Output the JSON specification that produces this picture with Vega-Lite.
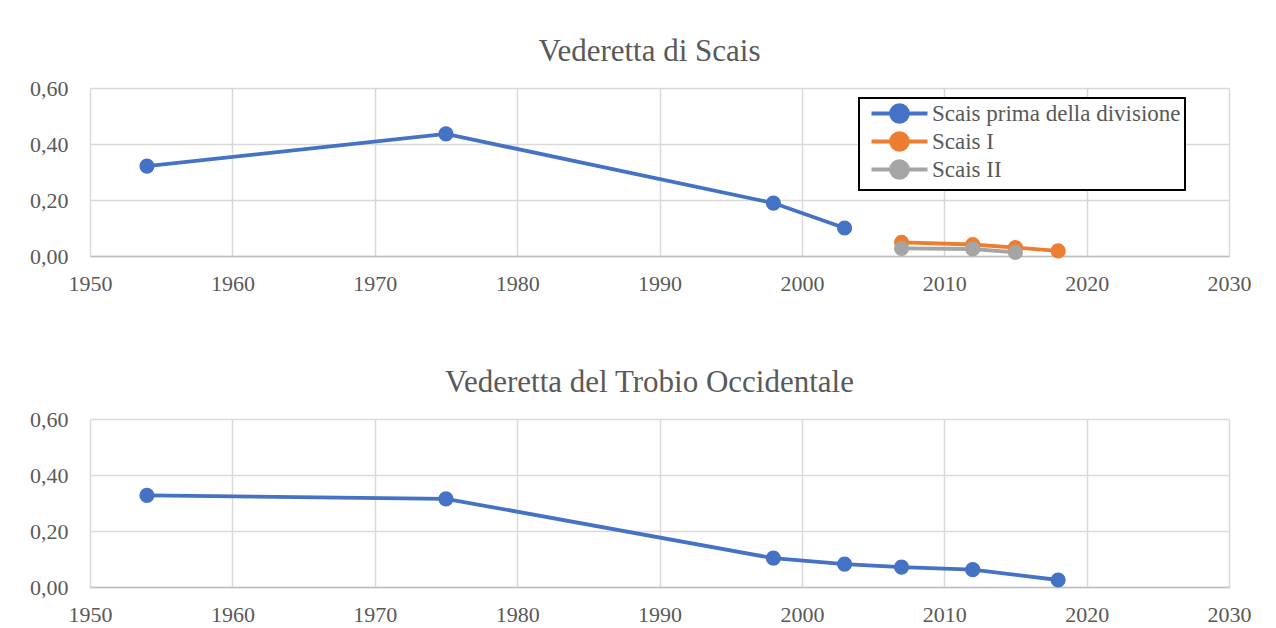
{
  "$schema": "https://vega.github.io/schema/vega-lite/v6.json",
  "padding": {"left": 29, "top": 36, "right": 20, "bottom": 5},
  "background": "white",
  "spacing": 73,
  "config": {
    "font": "Liberation Serif",
    "view": {"stroke": null},
    "locale": {"number": {"decimal": ",", "thousands": ".", "grouping": [3], "currency": ["€", ""]}},
    "axis": {
      "labelFont": "Liberation Serif",
      "labelFontSize": 22,
      "labelColor": "#595959",
      "gridColor": "#D9D9D9",
      "gridWidth": 1.5,
      "ticks": false,
      "title": null
    },
    "title": {"font": "Liberation Serif", "fontSize": 31, "fontWeight": "normal", "color": "#595959", "anchor": "middle", "offset": 9}
  },
  "datasets": {
    "scais": [
      {"anno": 1954, "valore": 0.321, "serie": "Scais prima della divisione"},
      {"anno": 1975, "valore": 0.436, "serie": "Scais prima della divisione"},
      {"anno": 1998, "valore": 0.189, "serie": "Scais prima della divisione"},
      {"anno": 2003, "valore": 0.100, "serie": "Scais prima della divisione"},
      {"anno": 2007, "valore": 0.049, "serie": "Scais I"},
      {"anno": 2012, "valore": 0.041, "serie": "Scais I"},
      {"anno": 2015, "valore": 0.030, "serie": "Scais I"},
      {"anno": 2018, "valore": 0.018, "serie": "Scais I"},
      {"anno": 2007, "valore": 0.027, "serie": "Scais II"},
      {"anno": 2012, "valore": 0.025, "serie": "Scais II"},
      {"anno": 2015, "valore": 0.013, "serie": "Scais II"}
    ],
    "trobio": [
      {"anno": 1954, "valore": 0.327},
      {"anno": 1975, "valore": 0.315},
      {"anno": 1998, "valore": 0.103},
      {"anno": 2003, "valore": 0.082},
      {"anno": 2007, "valore": 0.071},
      {"anno": 2012, "valore": 0.062},
      {"anno": 2018, "valore": 0.025}
    ]
  },
  "vconcat": [
    {
      "title": {"text": "Vederetta di Scais", "dx": -10},
      "width": 1139,
      "height": 168,
      "data": {"name": "scais"},
      "mark": {"type": "line", "strokeWidth": 3.8, "point": {"filled": true, "size": 230, "opacity": 1}},
      "encoding": {
        "x": {
          "field": "anno", "type": "quantitative",
          "scale": {"domain": [1950, 2030], "nice": false, "zero": false},
          "axis": {"values": [1950, 1960, 1970, 1980, 1990, 2000, 2010, 2020, 2030], "format": "d", "labelPadding": 17, "domainColor": "#BFBFBF", "domainWidth": 1.5, "labelFlush": false}
        },
        "y": {
          "field": "valore", "type": "quantitative",
          "scale": {"domain": [0, 0.6], "nice": false},
          "axis": {"values": [0, 0.2, 0.4, 0.6], "format": ".2f", "labelPadding": 22, "domain": false}
        },
        "color": {
          "field": "serie", "type": "nominal",
          "scale": {"domain": ["Scais prima della divisione", "Scais I", "Scais II"], "range": ["#4472C4", "#ED7D31", "#A5A5A5"]},
          "legend": {
            "title": null,
            "orient": "none",
            "legendX": 769,
            "legendY": 10,
            "direction": "vertical",
            "labelFont": "Liberation Serif",
            "labelFontSize": 23,
            "labelColor": "#595959",
            "labelLimit": 400,
            "labelOffset": 21,
            "symbolOffset": 25,
            "rowPadding": -10,
            "padding": 4,
            "strokeColor": "black",
            "fillColor": "white",
            "symbolSize": 324,
            "symbolStrokeWidth": 3.8,
            "symbolType": "M-3.11,0L3.11,0M-0.94,0A0.94,0.94,0,1,1,0.94,0A0.94,0.94,0,1,1,-0.94,0Z",
            "encode": {
              "symbols": {"update": {"fill": {"scale": "color", "field": "value"}, "stroke": {"scale": "color", "field": "value"}, "strokeWidth": {"value": 3.8}, "opacity": {"value": 1}}},
              "legend": {"update": {"strokeWidth": {"value": 2}}}
            }
          }
        }
      }
    },
    {
      "title": {"text": "Vederetta del Trobio Occidentale", "dx": -10},
      "width": 1139,
      "height": 168,
      "data": {"name": "trobio"},
      "mark": {"type": "line", "strokeWidth": 3.8, "color": "#4472C4", "point": {"filled": true, "size": 230, "opacity": 1, "color": "#4472C4"}},
      "encoding": {
        "x": {
          "field": "anno", "type": "quantitative",
          "scale": {"domain": [1950, 2030], "nice": false, "zero": false},
          "axis": {"values": [1950, 1960, 1970, 1980, 1990, 2000, 2010, 2020, 2030], "format": "d", "labelPadding": 17, "domainColor": "#BFBFBF", "domainWidth": 1.5, "labelFlush": false}
        },
        "y": {
          "field": "valore", "type": "quantitative",
          "scale": {"domain": [0, 0.6], "nice": false},
          "axis": {"values": [0, 0.2, 0.4, 0.6], "format": ".2f", "labelPadding": 22, "domain": false}
        }
      }
    }
  ]
}
